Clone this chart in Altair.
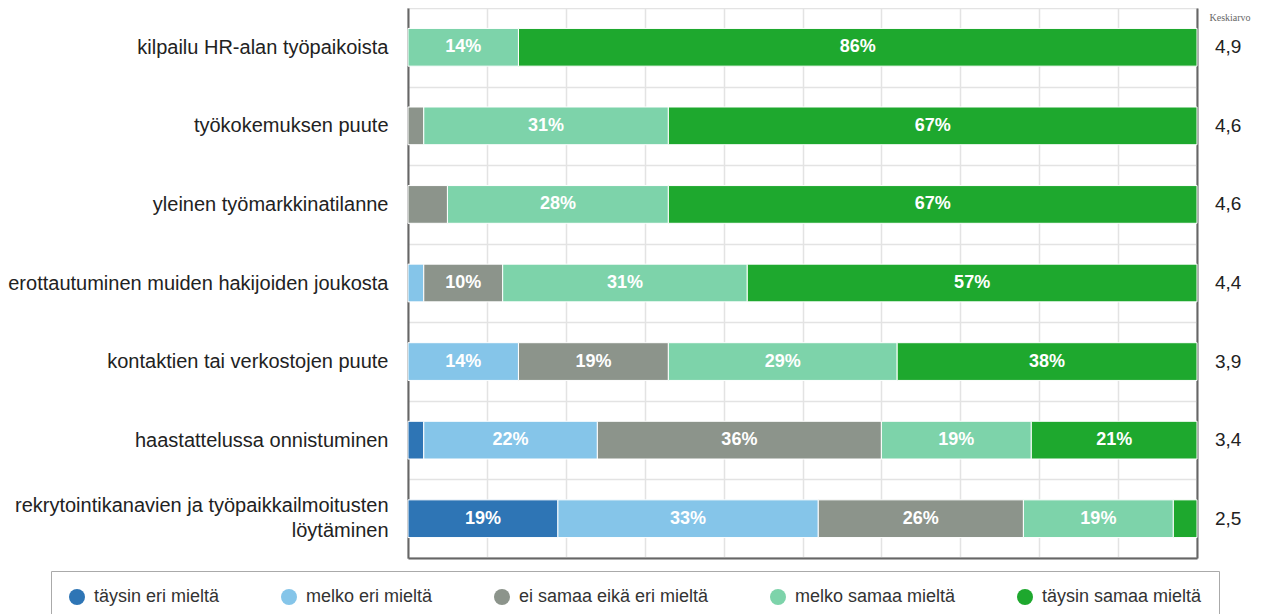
import altair as alt
import pandas as pd

categories = [
    "kilpailu HR-alan työpaikoista",
    "työkokemuksen puute",
    "yleinen työmarkkinatilanne",
    "erottautuminen muiden hakijoiden joukosta",
    "kontaktien tai verkostojen puute",
    "haastattelussa onnistuminen",
    "rekrytointikanavien ja työpaikkailmoitusten löytäminen",
]
series = [
    "täysin eri mieltä",
    "melko eri mieltä",
    "ei samaa eikä eri mieltä",
    "melko samaa mieltä",
    "täysin samaa mieltä",
]
colors = ["#2E75B5", "#85C5E9", "#8C948B", "#7DD3AA", "#1EA82E"]

taysin_eri = [0, 0, 0, 0, 0, 2, 19]
melko_eri = [0, 0, 0, 2, 14, 22, 33]
ei_samaa = [0, 2, 5, 10, 19, 36, 26]
melko_samaa = [14, 31, 28, 31, 29, 19, 19]
taysin_samaa = [86, 67, 67, 57, 38, 21, 3]
keskiarvo = [4.9, 4.6, 4.6, 4.4, 3.9, 3.4, 2.5]

all_values = [taysin_eri, melko_eri, ei_samaa, melko_samaa, taysin_samaa]
rows = []
for si, (s, vals) in enumerate(zip(series, all_values)):
    for c, v in zip(categories, vals):
        rows.append({"cat": c, "series": s, "order": si, "value": v})
df = pd.DataFrame(rows)

mdf = pd.DataFrame({"cat": categories, "mean": keskiarvo})
mdf["label"] = mdf["mean"].map(lambda v: f"{v:.1f}".replace(".", ","))

W, H = 789, 550
FONT = "Liberation Sans"

yscale = alt.Scale(domain=categories, paddingInner=0, paddingOuter=0)
xscale = alt.Scale(domain=[0, 100], nice=False)
long_cat = categories[-1]
long_test = f"datum.label == '{long_cat}'"

y_axis = alt.Axis(
    labelFont=FONT, labelFontSize=20, labelColor="#222",
    labelPadding=20, labelLimit=600, ticks=False,
    domain=True, domainColor="#666", domainWidth=2,
    grid=True, gridColor="#E3E3E3", gridWidth=1.5, tickBand="extent",
    labelLineHeight=25,
    labelOffset={"condition": {"test": long_test, "value": -13}, "value": 0},
    labelExpr=f"{long_test} ? ['rekrytointikanavien ja työpaikkailmoitusten', 'löytäminen'] : datum.label",
)
x_axis = alt.Axis(labels=False, ticks=False, values=list(range(0, 101, 10)),
                  grid=True, domainColor="#666", domainWidth=2,
                  gridColor="#E3E3E3", gridWidth=1.5)

base = alt.Chart(df).transform_filter("datum.value > 0")

bars = base.mark_bar(stroke="white", strokeWidth=1,
                     height=alt.RelativeBandSize(0.48)).encode(
    y=alt.Y("cat:N", scale=yscale, sort=categories, title=None, axis=y_axis),
    x=alt.X("value:Q", stack="zero", scale=xscale, title=None, axis=x_axis),
    color=alt.Color("series:N", scale=alt.Scale(domain=series, range=colors),
                    title=None,
                    legend=alt.Legend(
                        orient="none", legendX=-357, legendY=563,
                        direction="horizontal", columns=5, columnPadding=60,
                        symbolType="circle", symbolSize=256, symbolStrokeWidth=0,
                        labelFont=FONT, labelFontSize=18, labelColor="#333",
                        labelOffset=8, padding=17, strokeColor="#AAAAAA",
                        fillColor="white", labelLimit=400)),
    order=alt.Order("order:Q"),
)

labels = base.transform_stack(
    stack="value", groupby=["cat"], as_=["v0", "v1"],
    sort=[alt.SortField("order", order="ascending")],
).transform_calculate(
    mid="(datum.v0 + datum.v1) / 2",
    txt="datum.value + '%'",
).transform_filter("datum.value >= 10").mark_text(
    color="white", fontWeight="bold", font=FONT, fontSize=18, baseline="middle",
).encode(
    y=alt.Y("cat:N", scale=yscale, sort=categories, title=None, axis=y_axis),
    x=alt.X("mid:Q", scale=xscale, title=None, axis=x_axis),
    text="txt:N",
)

means = alt.Chart(mdf).mark_text(
    align="left", baseline="middle", font=FONT, fontSize=19, color="#222",
).encode(
    y=alt.Y("cat:N", scale=yscale, sort=categories, title="Keskiarvo",
            axis=alt.Axis(orient="right", labels=False, ticks=False, grid=False,
                          domainColor="#666", domainWidth=2,
                          titleAngle=0, titleAlign="left", titleBaseline="middle",
                          titleX=12, titleY=9, titleFont="Liberation Serif",
                          titleFontSize=10, titleFontWeight="normal",
                          titleColor="#666")),
    x=alt.value(W + 18),
    text="label:N",
)

left = alt.layer(bars, labels)
chart = alt.layer(left, means).resolve_scale(y="shared").resolve_axis(
    y="independent"
).properties(
    width=W, height=H,
    autosize=alt.AutoSizeParams(type="none"),
    padding={"left": 400, "top": 0, "right": 70, "bottom": 60},
).configure_view(stroke="#DDDDDD", strokeWidth=2)

chart.save("out.html", embed_options={"renderer": "svg", "actions": False})
